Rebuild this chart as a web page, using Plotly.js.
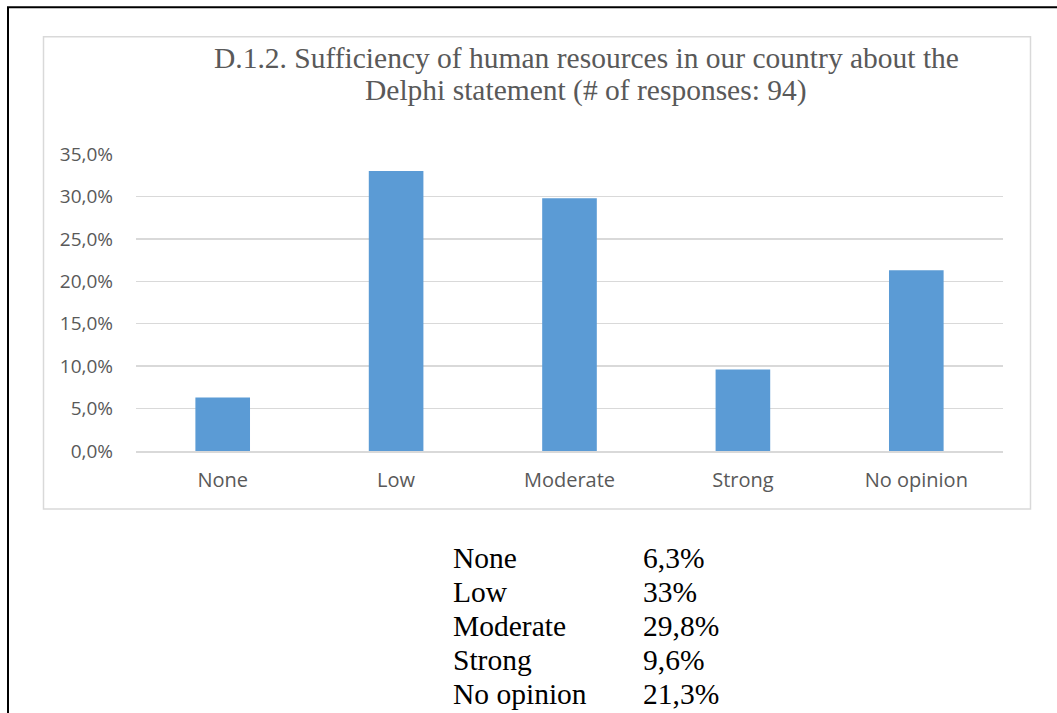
<!DOCTYPE html>
<html>
<head>
<meta charset="utf-8">
<script src="https://cdn.plot.ly/plotly-3.0.1.min.js"></script>
<style>
  html, body { margin: 0; padding: 0; background: #ffffff; }
  #chart { width: 1057px; height: 713px; }
</style>
</head>
<body>
<div id="chart"></div>
<script>
// ---- data ----
const categories = ["None", "Low", "Moderate", "Strong", "No opinion"];
const values = [6.3, 33, 29.8, 9.6, 21.3];
const tableLabels = ["6,3%", "33%", "29,8%", "9,6%", "21,3%"];
const titleLines = [
  "D.1.2. Sufficiency of human resources in our country about the",
  "Delphi statement (# of responses: 94)"
];
const yTicks = [0, 5, 10, 15, 20, 25, 30, 35];
const yTickText = ["0,0%", "5,0%", "10,0%", "15,0%", "20,0%", "25,0%", "30,0%", "35,0%"];

// ---- layout geometry (pixels) ----
const W = 1057, H = 713;
const L = 136, R = 1003, T = 154, B = 451.5;
const px = x => (x - L) / (R - L);
const py = y => (B - y) / (B - T);

const serif = "'Liberation Serif', 'Times New Roman', serif";
const sans = "'Open Sans', sans-serif";
const grey = "#595959";

const annotations = [];
// title lines
const titleBaselines = [67, 99];
titleLines.forEach((t, i) => {
  annotations.push({
    text: t, xref: "paper", yref: "paper",
    x: px(586), y: py(titleBaselines[i] - 9), xanchor: "center", yanchor: "middle",
    showarrow: false, font: {family: serif, size: 29.5, color: grey}
  });
});
// table below chart
const rowBaselines = [567, 601, 635, 669, 703];
categories.forEach((c, i) => {
  annotations.push({
    text: c, xref: "paper", yref: "paper",
    x: px(451), y: py(rowBaselines[i] - 8.5), xanchor: "left", yanchor: "middle",
    showarrow: false, font: {family: serif, size: 29.5, color: "#000000"}
  });
  annotations.push({
    text: tableLabels[i], xref: "paper", yref: "paper",
    x: px(641), y: py(rowBaselines[i] - 8.5), xanchor: "left", yanchor: "middle",
    showarrow: false, font: {family: serif, size: 29.5, color: "#000000"}
  });
});

const shapes = [
  // outer black frame (left and top)
  {type: "line", xref: "paper", yref: "paper", x0: px(8), x1: px(8), y0: py(7), y1: py(720),
   line: {color: "#000000", width: 2}},
  {type: "line", xref: "paper", yref: "paper", x0: px(7), x1: px(1065), y0: py(7), y1: py(7),
   line: {color: "#000000", width: 2}},
  // chart box
  {type: "rect", xref: "paper", yref: "paper", x0: px(43.5), x1: px(1030.5), y0: py(36.5), y1: py(509.5),
   line: {color: "#D9D9D9", width: 1.5}, fillcolor: "rgba(0,0,0,0)", layer: "below"}
];

const trace = {
  type: "bar",
  x: categories,
  y: values,
  marker: {color: "#5B9BD5", line: {width: 0}},
  hoverinfo: "x+y"
};

const layout = {
  width: W, height: H,
  margin: {l: L, r: W - R, t: T, b: H - B},
  paper_bgcolor: "#ffffff",
  plot_bgcolor: "#ffffff",
  bargap: 0.685,
  showlegend: false,
  xaxis: {
    type: "category",
    showgrid: false,
    showline: true, linecolor: "#D9D9D9", linewidth: 1.5,
    ticks: "", ticklabelstandoff: 10,
    tickfont: {family: sans, size: 20, color: grey},
    zeroline: false
  },
  yaxis: {
    range: [0, 35],
    tickmode: "array",
    tickvals: yTicks,
    ticktext: yTickText,
    showgrid: true, gridcolor: "#D9D9D9", gridwidth: 1.5,
    zeroline: false, showline: false,
    ticks: "", ticklabelstandoff: 22,
    tickfont: {family: sans, size: 19, color: grey}
  },
  annotations: annotations,
  shapes: shapes
};

Plotly.newPlot("chart", [trace], layout, {displayModeBar: false, staticPlot: true});
</script>
</body>
</html>
